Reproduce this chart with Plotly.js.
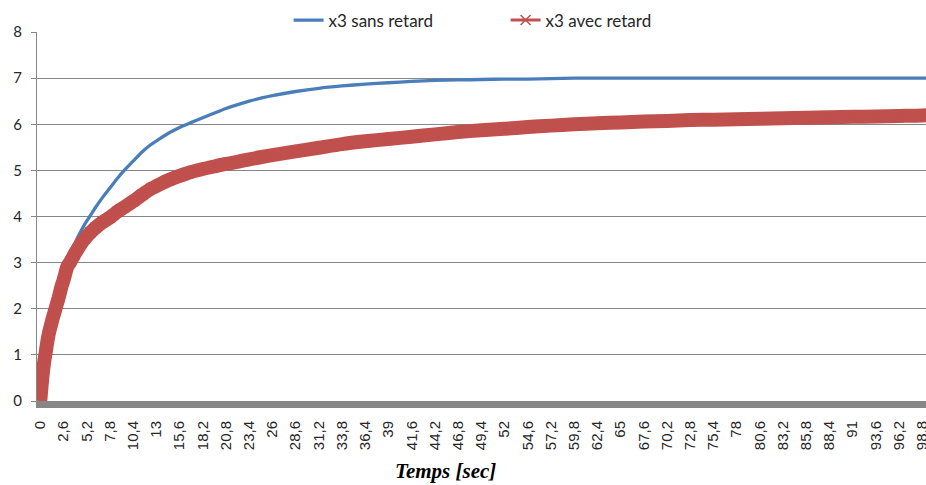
<!DOCTYPE html>
<html><head><meta charset="utf-8">
<script src="https://cdn.plot.ly/plotly-3.0.1.min.js"></script>
<style>html,body{margin:0;padding:0;background:#fff}#chart{width:926px;height:485px}</style>
</head><body><div id="chart"></div>
<script>
const temps = [0,0.2,0.4,0.6,0.8,1.0,1.2,1.4,1.6,1.8,2.0,2.2,2.4,2.6,2.8,3.0,3.4,3.8,4.2,4.6,5.0,5.6,6.2,7.0,7.8,8.6,9.4,10.4,11.4,12.4,13.4,14.4,15.6,16.8,18.2,19.6,20.8,22.2,23.4,24.8,26,28.6,31.2,33.8,36.4,39,41.6,44.2,46.8,49.4,52,54.6,57.2,59.8,62.4,65,67.6,70.2,72.8,75.4,78,80.6,83.2,85.8,88.4,91,93.6,96.2,98.8,99.8];
// x3 sans retard
const sansRetard = [0,0.4,0.75,1.05,1.3,1.5,1.68,1.83,1.97,2.1,2.25,2.4,2.55,2.7,2.85,3.0,3.2,3.38,3.55,3.7,3.84,4.02,4.2,4.42,4.62,4.82,5.0,5.2,5.4,5.56,5.69,5.81,5.93,6.03,6.14,6.25,6.34,6.43,6.5,6.57,6.62,6.71,6.78,6.83,6.87,6.9,6.93,6.95,6.96,6.97,6.98,6.98,6.99,7.0,7.0,7.0,7.0,7.0,7.0,7.0,7.0,7.0,7.0,7.0,7.0,7.0,7.0,7.0,7.0,7.0];
// x3 avec retard
const avecRetard = [0,0.45,0.8,1.05,1.3,1.5,1.65,1.8,1.93,2.07,2.2,2.35,2.5,2.62,2.76,2.9,3.03,3.17,3.3,3.42,3.52,3.65,3.76,3.88,3.98,4.1,4.2,4.33,4.47,4.6,4.7,4.79,4.88,4.96,5.03,5.09,5.14,5.19,5.24,5.29,5.33,5.41,5.49,5.57,5.63,5.68,5.73,5.78,5.83,5.87,5.9,5.94,5.97,6.0,6.02,6.04,6.06,6.07,6.09,6.1,6.11,6.12,6.13,6.14,6.15,6.16,6.17,6.18,6.19,6.2];
const xTickLabels = ["0","2,6","5,2","7,8","10,4","13","15,6","18,2","20,8","23,4","26","28,6","31,2","33,8","36,4","39","41,6","44,2","46,8","49,4","52","54,6","57,2","59,8","62,4","65","67,6","70,2","72,8","75,4","78","80,6","83,2","85,8","88,4","91","93,6","96,2","98,8"];
const xTickVals = xTickLabels.map(s => parseFloat(s.replace(",", ".")));
const yTickVals = [0,1,2,3,4,5,6,7,8];
const seriesNames = ["x3 sans retard", "x3 avec retard"];

const BLUE = "#4a7ebb", RED = "#c0504d", GRID = "#868686";

const traces = [
  {x: temps, y: sansRetard, name: seriesNames[0], type: "scatter", mode: "lines",
   line: {color: BLUE, width: 3.3, shape: "spline", smoothing: 0.8}},
  {x: temps, y: avecRetard, name: seriesNames[1], type: "scatter", mode: "lines",
   line: {color: RED, width: 14, shape: "spline", smoothing: 0.8}, showlegend: false, hoverinfo: "skip"},
  {x: temps, y: avecRetard, name: seriesNames[1], type: "scatter", mode: "lines+markers",
   line: {color: RED, width: 3, shape: "spline", smoothing: 0.8},
   marker: {symbol: "x-thin-open", size: 10, color: RED, line: {color: RED, width: 1.5}}}
];

const layout = {
  width: 926, height: 485,
  margin: {l: 37, r: 0, t: 32, b: 84, pad: 0},
  paper_bgcolor: "#fff", plot_bgcolor: "#fff",
  showlegend: true,
  legend: {orientation: "h", x: 0.283, xanchor: "left", y: 1.08, yanchor: "top",
    font: {family: "Lato, sans-serif", size: 17, color: "#262626"},
    entrywidth: 172, entrywidthmode: "pixels", bgcolor: "rgba(0,0,0,0)"},
  xaxis: {range: [-0.37, 99.22], tickmode: "array", tickvals: xTickVals, ticktext: xTickLabels,
    tickangle: -90, showgrid: false, zeroline: false, showline: true, linecolor: GRID, linewidth: 7,
    ticks: "", ticklabelstandoff: 7, ticklabeloverflow: "allow",
    tickfont: {family: "Liberation Sans, Arial, sans-serif", size: 15, color: "#262626"}},
  yaxis: {range: [0, 8], tickmode: "array", tickvals: yTickVals, showgrid: true, gridcolor: GRID, gridwidth: 1,
    zeroline: false, showline: true, linecolor: GRID, linewidth: 1, ticks: "outside", ticklen: 5, tickcolor: GRID,
    ticklabelstandoff: 6,
    tickfont: {family: "Lato, sans-serif", size: 15, color: "#262626"}},
  annotations: [{text: "<b><i>Temps [sec]</i></b>", xref: "paper", yref: "paper", x: 0.46, y: -0.19,
    xanchor: "center", yanchor: "middle", showarrow: false,
    font: {family: "Liberation Serif, Times New Roman, serif", size: 21, color: "#000"}}]
};

Plotly.newPlot("chart", traces, layout, {displayModeBar: false, staticPlot: true});
</script>
</body></html>
